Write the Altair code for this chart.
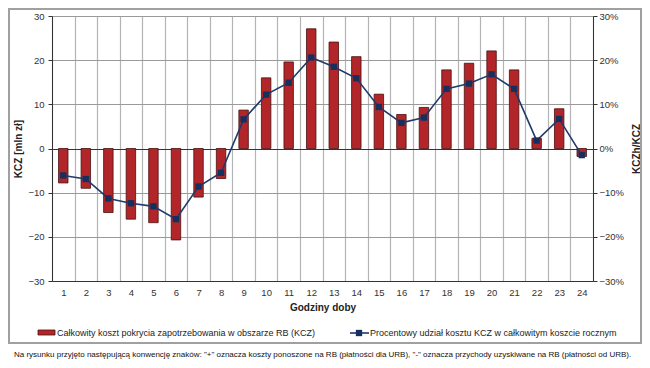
import altair as alt
import pandas as pd

hours = list(range(1, 25))
kcz = [-7.8, -9.0, -14.5, -16.0, -16.8, -20.7, -11.0, -6.8, 8.7, 16.0, 19.6, 27.1,
       24.1, 20.8, 12.3, 7.7, 9.3, 17.8, 19.3, 22.1, 17.8, 2.3, 9.0, -1.8]
share = [-6.1, -6.9, -11.3, -12.4, -13.1, -16.0, -8.6, -5.5, 6.6, 12.2, 14.9, 20.6,
         18.5, 15.9, 9.4, 5.8, 7.0, 13.5, 14.7, 16.8, 13.5, 1.8, 6.7, -1.5]
share_frac = [v / 100 for v in share]

left_ticks = [-30, -20, -10, 0, 10, 20, 30]
right_ticks = [-0.3, -0.2, -0.1, 0, 0.1, 0.2, 0.3]

bar_label = "Całkowity koszt pokrycia zapotrzebowania w obszarze RB (KCZ)"
line_label = "Procentowy udział kosztu KCZ w całkowitym koszcie rocznym"
x_title = "Godziny doby"
left_title = "KCZ [mln zł]"
right_title = "KCZh/KCZ"
footnote = ('Na rysunku przyjęto następującą konwencję znaków: "+" oznacza koszty ponoszone na RB '
            '(płatności dla URB), "-" oznacza przychody uzyskiwane na RB (płatności od URB).')

df = pd.DataFrame({"hour": hours, "kcz": kcz, "share": share_frac})

FONT = "Liberation Sans"
BAR = "#B2262A"
NAVY = "#1F3A6B"


def x_enc():
    return alt.X("hour:O", title=x_title,
                 scale=alt.Scale(paddingInner=0, paddingOuter=0),
                 axis=alt.Axis(labelAngle=0, ticks=False, tickBand="extent", grid=True,
                               gridColor="#b4b4b4", gridWidth=1.2, domainColor="#333333",
                               labelPadding=6, labelFontSize=9.5, labelColor="#333333",
                               titleFontSize=10, titleFontWeight="bold", titlePadding=6,
                               titleColor="#222222"))


bars = alt.Chart(df).mark_bar(width=alt.RelativeBandSize(0.42), color=BAR,
                              stroke="#4a0f0f", strokeWidth=0.8).encode(
    x=x_enc(),
    y=alt.Y("kcz:Q", title=left_title,
            scale=alt.Scale(domain=[-30, 30], nice=False, zero=False),
            axis=alt.Axis(values=left_ticks, grid=True,
                          gridColor=alt.condition("datum.value === 0",
                                                  alt.value("#333333"), alt.value("#9a9a9a")),
                          domainColor="#333333", tickColor="#333333", tickSize=4,
                          labelPadding=4, labelFontSize=9.5, labelColor="#333333",
                          titleFontSize=10, titleFontWeight="bold", titlePadding=4,
                          titleColor="#222222"))
)

line = alt.Chart(df).mark_line(color=NAVY, strokeWidth=1.6,
                               point=alt.OverlayMarkDef(shape="square", size=40,
                                                        filled=True, color="#15305f")).encode(
    x=x_enc(),
    y=alt.Y("share:Q", title=right_title,
            scale=alt.Scale(domain=[-0.3, 0.3], nice=False, zero=False),
            axis=alt.Axis(orient="right", values=right_ticks, format=".0%", grid=False,
                          domainColor="#333333", tickColor="#333333", tickSize=4,
                          labelPadding=2, labelFontSize=9.5, labelColor="#333333",
                          titleFontSize=10, titleFontWeight="bold", titlePadding=18,
                          titleAngle=270, titleColor="#222222"))
)

one = pd.DataFrame({"a": [0]})
frame = alt.Chart(one).mark_rect(fill=None, stroke="#a0a0a0", strokeWidth=2).encode(
    x=alt.value(-43), x2=alt.value(589), y=alt.value(-7), y2=alt.value(327))

leg_rect = alt.Chart(one).mark_rect(color=BAR, stroke="#4a0f0f", strokeWidth=0.8).encode(
    x=alt.value(-14), x2=alt.value(3), y=alt.value(314), y2=alt.value(319))
leg_text1 = alt.Chart(one).mark_text(text=bar_label, align="left", baseline="middle",
                                     fontSize=9, font=FONT, color="#222222").encode(
    x=alt.value(5), y=alt.value(317))
leg_line = alt.Chart(one).mark_rule(color=NAVY, strokeWidth=1.6).encode(
    x=alt.value(298), x2=alt.value(317), y=alt.value(317))
leg_pt = alt.Chart(one).mark_point(shape="square", size=40, filled=True, color="#15305f",
                                   opacity=1).encode(x=alt.value(307), y=alt.value(317))
leg_text2 = alt.Chart(one).mark_text(text=line_label, align="left", baseline="middle",
                                     fontSize=9, font=FONT, color="#222222").encode(
    x=alt.value(318), y=alt.value(317))
foot = alt.Chart(one).mark_text(text=footnote, align="left", baseline="middle",
                                fontSize=8, font=FONT, color="#111111").encode(
    x=alt.value(-38), y=alt.value(339))

chart = alt.layer(
    bars, line, frame, leg_rect, leg_text1, leg_line, leg_pt, leg_text2, foot
).resolve_scale(y="independent").properties(
    width=541, height=265,
    autosize=alt.AutoSizeParams(type="none"),
    padding={"left": 44, "top": 8, "right": 49, "bottom": 79},
).configure_view(stroke=None).configure_axis(labelFont=FONT, titleFont=FONT)

chart.save("out.html", embed_options={"renderer": "svg", "actions": False})
